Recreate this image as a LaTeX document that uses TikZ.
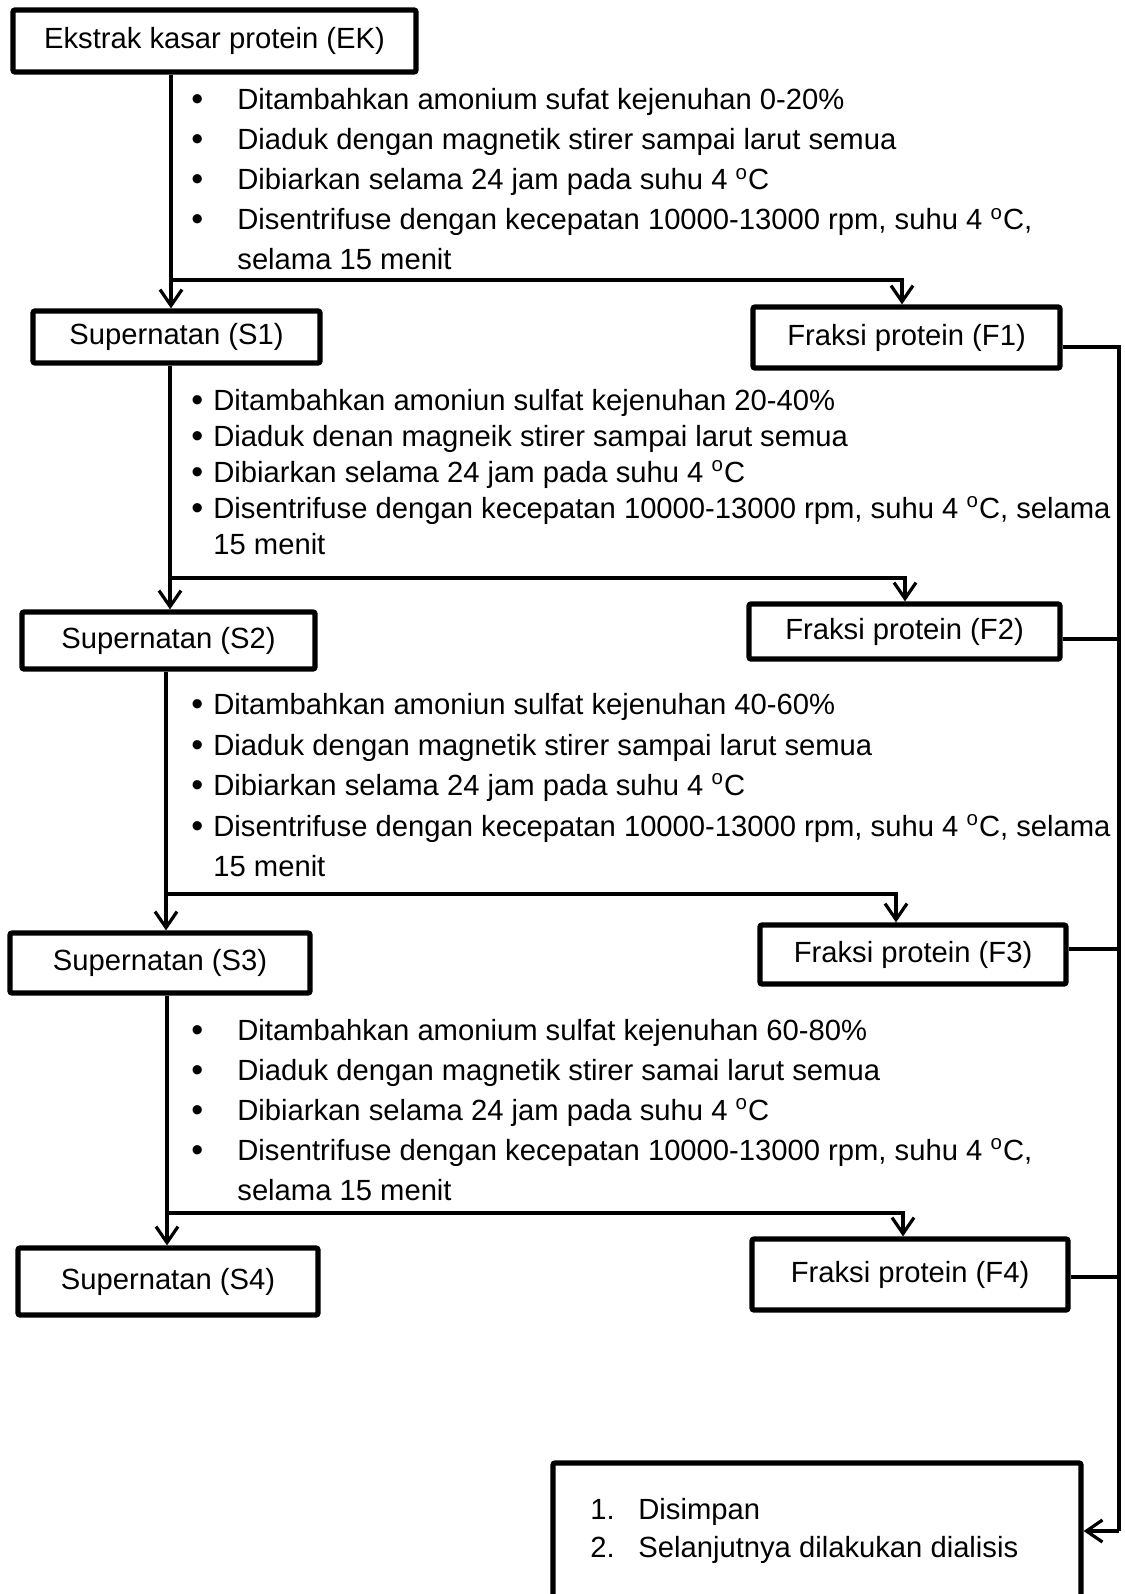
\documentclass[tikz,border=0pt]{standalone}
\usepackage{fontspec}
\setmainfont{Liberation Sans}
\usetikzlibrary{arrows.meta}
\newcommand{\blt}[1]{\makebox[#1][l]{\raisebox{-0.5pt}{\fontsize{17}{20}\selectfont\textbullet}}}
\newcommand{\degC}{\textsuperscript{o}C}
\begin{document}
\begin{tikzpicture}[x=0.5pt,y=-0.5pt,
  box/.style={draw, line width=2.6pt, rounded corners=1pt, inner sep=0pt, font=\fontsize{14.6}{18}\selectfont},
  conn/.style={line width=1.6pt},
  arr/.style={conn, -{Straight Barb[length=8pt,width=11pt,line width=1.6pt]}},
  lst/.style={anchor=base west, inner sep=0pt, font=\fontsize{14.6}{20}\selectfont},
]
\clip (0,0) rectangle (1124,1594);
\fill[white] (0,0) rectangle (1124,1594);

% boxes
\node[box, minimum width=201.5pt, minimum height=31pt] (EK) at (214.5,41) {Ekstrak kasar protein (EK)};
\node[box, minimum width=143.5pt, minimum height=26pt] (S1) at (176.5,337) {Supernatan (S1)};
\node[box, minimum width=153.5pt, minimum height=30.5pt] (F1) at (906.5,337.5) {Fraksi protein (F1)};
\node[box, minimum width=146.5pt, minimum height=28.5pt] (S2) at (168.5,640.5) {Supernatan (S2)};
\node[box, minimum width=155.5pt, minimum height=27.5pt] (F2) at (904.5,631.5) {Fraksi protein (F2)};
\node[box, minimum width=150pt, minimum height=30pt] (S3) at (160,963) {Supernatan (S3)};
\node[box, minimum width=153pt, minimum height=29.5pt] (F3) at (913,954.5) {Fraksi protein (F3)};
\node[box, minimum width=150pt, minimum height=33.5pt] (S4) at (168,1281.5) {Supernatan (S4)};
\node[box, minimum width=158pt, minimum height=35.5pt] (F4) at (910,1274.5) {Fraksi protein (F4)};
\node[box, minimum width=264pt, minimum height=100pt] (fin) at (817,1563) {};

% list 1
\node[lst] (a1) at (191,110) {\blt{23pt}Ditambahkan amonium sufat kejenuhan 0-20\%};
\node[lst] (a2) at (191,150) {\blt{23pt}Diaduk dengan magnetik stirer sampai larut semua};
\node[lst] (a3) at (191,190) {\blt{23pt}Dibiarkan selama 24 jam pada suhu 4 \degC};
\node[lst] (a4) at (191,230) {\blt{23pt}Disentrifuse dengan kecepatan 10000-13000 rpm, suhu 4 \degC,};
\node[lst] (a5) at (237,270) {selama 15 menit};

% list 2
\node[lst] (b1) at (191,410) {\blt{11pt}Ditambahkan amoniun sulfat kejenuhan 20-40\%};
\node[lst] (b2) at (191,446) {\blt{11pt}Diaduk denan magneik stirer sampai larut semua};
\node[lst] (b3) at (191,482) {\blt{11pt}Dibiarkan selama 24 jam pada suhu 4 \degC};
\node[lst] (b4) at (191,518) {\blt{11pt}Disentrifuse dengan kecepatan 10000-13000 rpm, suhu 4 \degC, selama};
\node[lst] (b5) at (213,554) {15 menit};

% list 3
\node[lst] (c1) at (191,714) {\blt{11pt}Ditambahkan amoniun sulfat kejenuhan 40-60\%};
\node[lst] (c2) at (191,755) {\blt{11pt}Diaduk dengan magnetik stirer sampai larut semua};
\node[lst] (c3) at (191,795) {\blt{11pt}Dibiarkan selama 24 jam pada suhu 4 \degC};
\node[lst] (c4) at (191,836) {\blt{11pt}Disentrifuse dengan kecepatan 10000-13000 rpm, suhu 4 \degC, selama};
\node[lst] (c5) at (213,876) {15 menit};

% list 4
\node[lst] (d1) at (191,1040) {\blt{23pt}Ditambahkan amonium sulfat kejenuhan 60-80\%};
\node[lst] (d2) at (191,1080) {\blt{23pt}Diaduk dengan magnetik stirer samai larut semua};
\node[lst] (d3) at (191,1120) {\blt{23pt}Dibiarkan selama 24 jam pada suhu 4 \degC};
\node[lst] (d4) at (191,1160) {\blt{23pt}Disentrifuse dengan kecepatan 10000-13000 rpm, suhu 4 \degC,};
\node[lst] (d5) at (237,1200) {selama 15 menit};

% final text
\node[lst] (e1) at (590,1519) {\makebox[24pt][l]{1.}Disimpan};
\node[lst] (e2) at (590,1557) {\makebox[24pt][l]{2.}Selanjutnya dilakukan dialisis};

% junctions
\coordinate (j1) at (171,280); \coordinate (t1) at (902,280);
\coordinate (j2) at (170,578); \coordinate (t2) at (905,578);
\coordinate (j3) at (166,894); \coordinate (t3) at (896,894);
\coordinate (j4) at (167,1213); \coordinate (t4) at (903,1213);

\draw[arr] (EK.south -| j1) -- (S1.north -| j1);
\draw[arr] (j1) -- (t1) -- (F1.north -| t1);
\draw[arr] (S1.south -| j2) -- (S2.north -| j2);
\draw[arr] (j2) -- (t2) -- (F2.north -| t2);
\draw[arr] (S2.south -| j3) -- (S3.north -| j3);
\draw[arr] (j3) -- (t3) -- (F3.north -| t3);
\draw[arr] (S3.south -| j4) -- (S4.north -| j4);
\draw[arr] (j4) -- (t4) -- (F4.north -| t4);

% collector bus
\coordinate (r1) at (1119,347);
\coordinate (r2) at (1119,639);
\coordinate (r3) at (1119,949);
\coordinate (r4) at (1119,1277);
\coordinate (rb) at (1119,1531);
\draw[conn] (F1.east |- r1) -- (r1) -- (rb);
\draw[conn] (F2.east |- r2) -- (r2);
\draw[conn] (F3.east |- r3) -- (r3);
\draw[conn] (F4.east |- r4) -- (r4);
\draw[arr] (rb) -- (fin.east |- rb);
\end{tikzpicture}
\end{document}
